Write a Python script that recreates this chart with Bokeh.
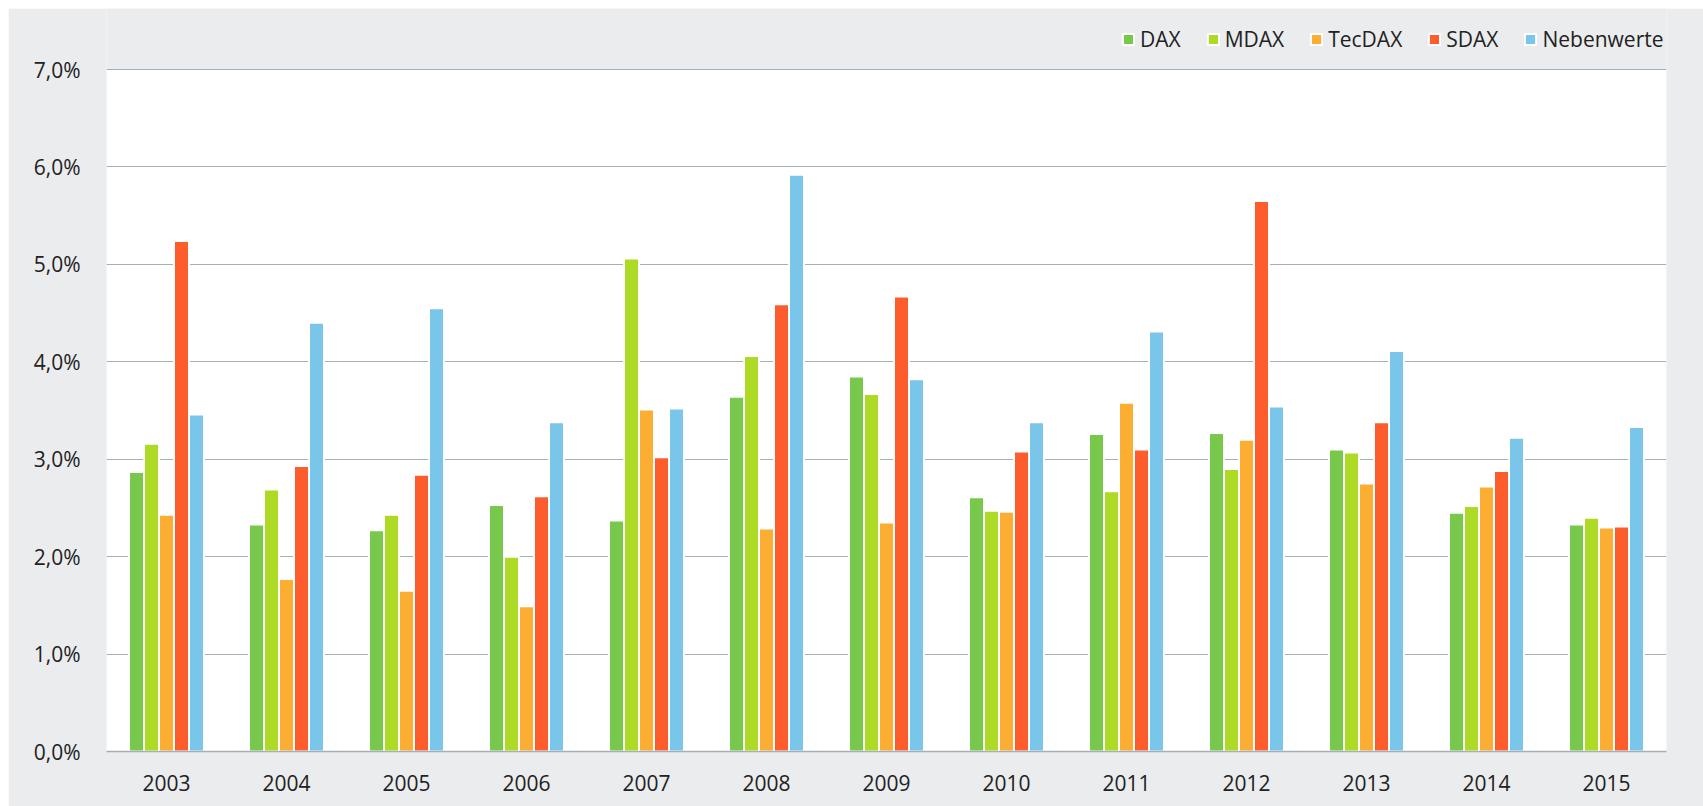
from bokeh.plotting import figure
from bokeh.models import (ColumnDataSource, FactorRange, Range1d, FixedTicker, Legend,
                          LegendItem, BoxAnnotation)
from bokeh.transform import dodge
from bokeh.embed import file_html
from bokeh.resources import INLINE

years = ["2003", "2004", "2005", "2006", "2007", "2008", "2009", "2010", "2011", "2012", "2013", "2014", "2015"]
dax = [2.87, 2.33, 2.27, 2.53, 2.37, 3.64, 3.85, 2.61, 3.26, 3.27, 3.10, 2.45, 2.33]
mdax = [3.16, 2.69, 2.43, 2.00, 5.06, 4.06, 3.67, 2.47, 2.67, 2.90, 3.07, 2.52, 2.40]
tecdax = [2.43, 1.77, 1.65, 1.49, 3.51, 2.29, 2.35, 2.46, 3.58, 3.20, 2.75, 2.72, 2.30]
sdax = [5.24, 2.93, 2.84, 2.62, 3.02, 4.59, 4.67, 3.08, 3.10, 5.65, 3.38, 2.88, 2.31]
nebenwerte = [3.46, 4.40, 4.55, 3.38, 3.52, 5.92, 3.82, 3.38, 4.31, 3.54, 4.11, 3.22, 3.33]

series_names = ["DAX", "MDAX", "TecDAX", "SDAX", "Nebenwerte"]
series_keys = ["dax", "mdax", "tecdax", "sdax", "nebenwerte"]
colors = ["#77c84b", "#acda25", "#fbae32", "#fd5c2c", "#7ac5ea"]
y_ticks = [0, 1, 2, 3, 4, 5, 6, 7]
y_tick_labels = ["0,0%", "1,0%", "2,0%", "3,0%", "4,0%", "5,0%", "6,0%", "7,0%"]
y_max = 7

source = ColumnDataSource(dict(year=years, dax=dax, mdax=mdax, tecdax=tecdax,
                               sdax=sdax, nebenwerte=nebenwerte))

FONT = "Open Sans"
TEXT = "#222222"
GRID = "#a6aeb6"
BG = "#ebecee"

# frame extends up to the top of the figure so the legend can sit inside it;
# the white plotting area covers only 0 .. 7 %
frame_h = 798 - 55
plot_h = 682
p = figure(width=1695, height=798, x_range=FactorRange(*years),
           y_range=Range1d(0, y_max * frame_h / plot_h),
           output_backend="svg", toolbar_location=None, margin=(8, 0, 0, 8),
           min_border_left=98, min_border_right=37, min_border_top=0, min_border_bottom=55)
p.background_fill_color = BG
p.border_fill_color = BG
p.outline_line_color = None

p.add_layout(BoxAnnotation(bottom=0, top=y_max, fill_color="white", fill_alpha=1,
                           line_color=None, level="image"))

offsets = [-0.25, -0.125, 0.0, 0.125, 0.25]
items = []
for key, name, col, off in zip(series_keys, series_names, colors, offsets):
    r = p.vbar(x=dodge("year", off, range=p.x_range), top=key, width=0.125, bottom=0,
               source=source, fill_color=col, line_color="white", line_width=2)
    items.append(LegendItem(label=name, renderers=[r]))

legend = Legend(items=items, orientation="horizontal", location=(1015, 698),
                glyph_width=14, glyph_height=14, label_standoff=5, spacing=25,
                label_height=24, padding=0, margin=0, border_line_color=None,
                background_fill_alpha=0,
                label_text_font=FONT, label_text_font_size="21px", label_text_color=TEXT)
p.add_layout(legend)

p.xgrid.grid_line_color = None
p.ygrid.grid_line_color = GRID
p.ygrid.grid_line_width = 1.2
p.ygrid.ticker = FixedTicker(ticks=y_ticks)

p.yaxis.ticker = FixedTicker(ticks=y_ticks)
p.yaxis.major_label_overrides = {t: s for t, s in zip(y_ticks, y_tick_labels)}
p.yaxis.axis_line_color = None
p.yaxis.major_tick_line_color = None
p.yaxis.minor_tick_line_color = None
p.yaxis.major_label_standoff = 20
p.yaxis.major_label_text_font = FONT
p.yaxis.major_label_text_font_size = "21px"
p.yaxis.major_label_text_color = TEXT

p.xaxis.axis_line_color = GRID
p.xaxis.axis_line_width = 1.5
p.xaxis.major_tick_line_color = None
p.xaxis.minor_tick_line_color = None
p.xaxis.major_label_standoff = 17
p.xaxis.major_label_text_font = FONT
p.xaxis.major_label_text_font_size = "21px"
p.xaxis.major_label_text_color = TEXT

open("out.html", "w").write(file_html(p, INLINE))
